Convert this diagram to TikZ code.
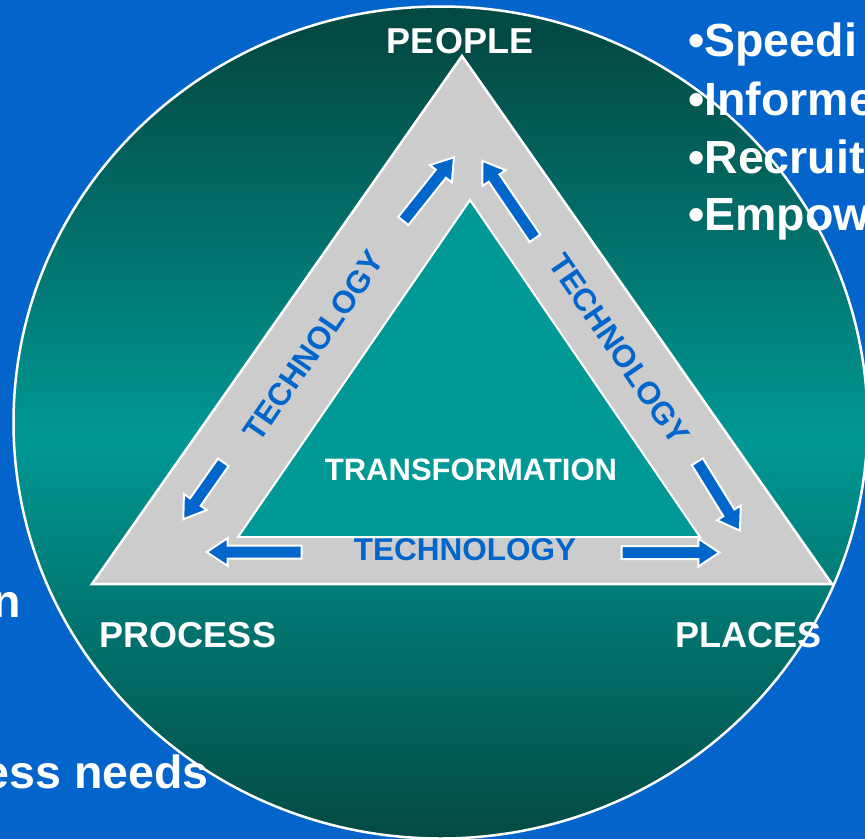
\documentclass[tikz,border=0pt]{standalone}
\usepackage{fontspec}
\setmainfont{Liberation Sans}
\definecolor{bgblue}{RGB}{3,101,204}
\definecolor{tealdark}{RGB}{3,74,68}
\definecolor{tealmid}{RGB}{0,152,148}
\definecolor{tealin}{RGB}{0,153,150}
\definecolor{greytri}{RGB}{204,204,204}
\definecolor{arrblue}{RGB}{0,102,204}
\tikzset{
  arrowsty/.style={fill=arrblue, draw=white, line width=2pt, line join=miter},
  corner/.style={text=white, font=\bfseries\fontsize{36}{40}\selectfont, inner sep=0pt, anchor=base},
  techlbl/.style={text=arrblue, font=\bfseries\fontsize{31.5}{34}\selectfont, inner sep=0pt},
  slidetxt/.style={text=white, font=\bfseries\fontsize{46.5}{50}\selectfont, inner sep=0pt},
}
\newcommand\blkarrow[4]{%
  \begin{scope}[shift={(#1,#2)},rotate=#3]
    \draw[arrowsty] (0,-6.5) -- ({#4-21},-6.5) -- ({#4-21},-14) -- (#4,0) -- ({#4-21},14) -- ({#4-21},6.5) -- (0,6.5) -- cycle;
  \end{scope}}
\begin{document}
\begin{tikzpicture}[x=1pt,y=-1pt]
\useasboundingbox (0,0) rectangle (865,839);
\clip (0,0) rectangle (865,839);
\fill[bgblue] (0,0) rectangle (865,839);
% big ellipse with vertical gradient (dark - light - dark), drawn as strips
\begin{scope}
  \clip (440.5,422.5) ellipse [x radius=427, y radius=416];
  \foreach \i in {0,...,211} {
    \pgfmathsetmacro\yy{4+4*\i}
    \pgfmathsetmacro\pp{max(0,min(100,100*(1-abs(\yy+2-440)/400)))}
    \fill[tealmid!\pp!tealdark] (0,\yy) rectangle (865,\yy+4.6);
  }
\end{scope}
\draw[white, line width=2.5pt] (440.5,422.5) ellipse [x radius=427, y radius=416];
% outer grey triangle
\coordinate (tp) at (462,56);
\coordinate (tl) at (92,584);
\coordinate (tr) at (832,584);
\draw[white, line width=2.5pt, fill=greytri, line join=miter] (tp) -- (tl) -- (tr) -- cycle;
% inner triangle
\coordinate (ip) at (470,200);
\coordinate (il) at (238,537);
\coordinate (ir) at (700,537);
\draw[white, line width=2pt, fill=tealin, line join=miter] (ip) -- (il) -- (ir) -- cycle;
% arrows
\blkarrow{403.3}{221}{51.5}{81.4}
\blkarrow{535}{238.3}{124.2}{93.8}
\blkarrow{223.3}{462.3}{-125.1}{69.6}
\blkarrow{301.7}{552}{180}{95}
\blkarrow{697.3}{461.7}{-58.3}{81.1}
\blkarrow{621.7}{552.5}{0}{97.6}
% labels
\node[corner] (people) at (460,53) {PEOPLE};
\node[corner] (process) at (188,647) {PROCESS};
\node[corner] (places) at (748.5,647) {PLACES};
\node[corner, font=\bfseries\fontsize{31}{34}\selectfont] (transf) at (471,480) {TRANSFORMATION};
\node[techlbl, anchor=base] (techb) at (465,560) {TECHNOLOGY};
\node[techlbl, rotate=55.5] (techl) at (314,346) {TECHNOLOGY};
\node[techlbl, rotate=-55.5] (techr) at (619,349) {TECHNOLOGY};
% slide text around
\node[slidetxt, anchor=base west] (b1) at (688,56.7) {•Speedi};
\node[slidetxt, anchor=base west] (b2) at (688,115) {•Informe};
\node[slidetxt, anchor=base west] (b3) at (688,173.3) {•Recruit};
\node[slidetxt, anchor=base west] (b4) at (688,230) {•Empow};
\node[slidetxt, anchor=base east] (l1) at (21,617) {n};
\node[slidetxt, anchor=base east] (l2) at (209,788) {ess needs};
\end{tikzpicture}
\end{document}
